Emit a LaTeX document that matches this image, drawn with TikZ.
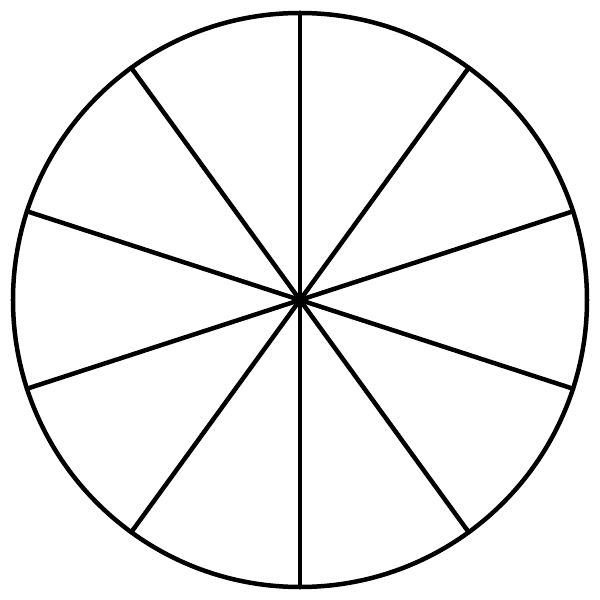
\documentclass[tikz,border=0pt]{standalone}
\begin{document}
\begin{tikzpicture}[x=0.01cm,y=0.01cm,
  spoke/.style={line width=0.045cm,line cap=round},
  rim/.style={line width=0.045cm}]
\useasboundingbox (-300,-300) rectangle (300,300);
\coordinate (c) at (0,0);
\draw[rim] (c) circle[radius=287];
\foreach \a in {90,126,...,414} {
  \draw[spoke] (c) -- (\a:287);
}
\end{tikzpicture}
\end{document}
